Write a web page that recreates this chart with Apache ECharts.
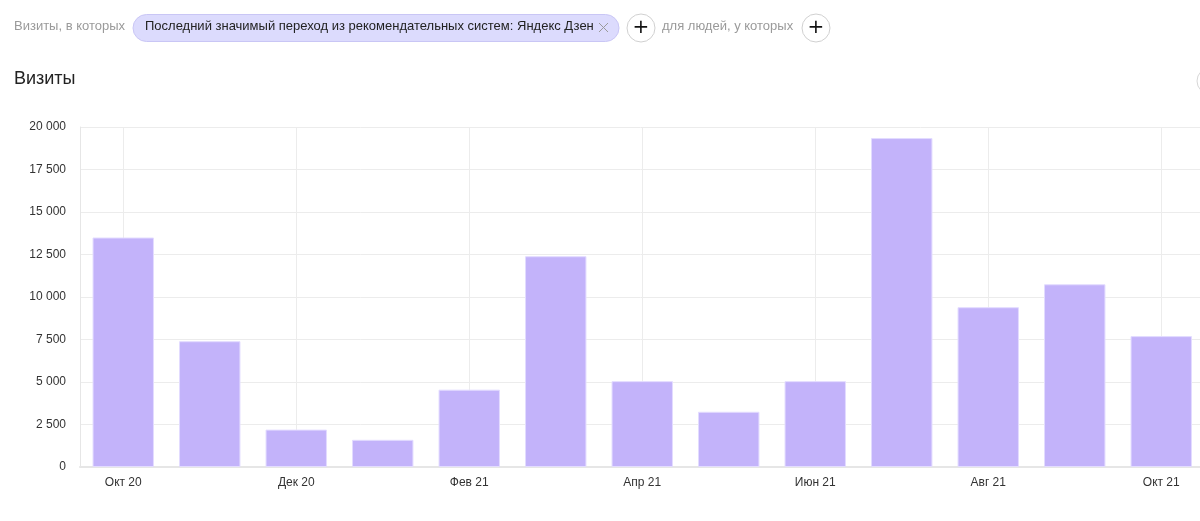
<!DOCTYPE html>
<html><head><meta charset="utf-8">
<script src="https://cdn.jsdelivr.net/npm/echarts@6/dist/echarts.min.js"></script>
<style>html,body{margin:0;padding:0;background:#fff;}#c{width:1200px;height:521px;}</style>
</head><body><div id="c"></div>
<script>
const months = ['Окт 20','Ноя 20','Дек 20','Янв 21','Фев 21','Мар 21','Апр 21','Май 21','Июн 21','Июл 21','Авг 21','Сен 21','Окт 21'];
const visits = [13500, 7400, 2200, 1600, 4550, 12400, 5050, 3250, 5050, 19350, 9400, 10750, 7700];
const yTicks = [0, 2500, 5000, 7500, 10000, 12500, 15000, 17500, 20000];
const chipText = 'Последний значимый переход из рекомендательных систем: Яндекс Дзен';

const chart = echarts.init(document.getElementById('c'), null, {renderer:'canvas'});
const fmt = v => String(v).replace(/\B(?=(\d{3})+(?!\d))/g, ' ');
chart.setOption({
  animation: false,
  textStyle: {fontFamily: 'Liberation Sans, Arial, sans-serif'},
  grid: {left: 80, top: 127, width: 1124.5, bottom: 54, containLabel: false, outerBoundsMode: 'none'},
  graphic: [
    {type:'text', left:14, top:20, style:{text:'Визиты, в которых', fill:'#9a9a9a', font:'13px "Liberation Sans", Arial, sans-serif'}},
    {type:'rect', shape:{x:133, y:14.5, width:486, height:27, r:13.5}, style:{fill:'#dcdbfd', stroke:'#c9c6f5', lineWidth:1}},
    {type:'text', left:145, top:20, style:{text:chipText, fill:'#222', font:'13px "Liberation Sans", Arial, sans-serif'}},
    {type:'line', shape:{x1:599, y1:23, x2:608, y2:32}, style:{stroke:'#9a9a9a', lineWidth:1}},
    {type:'line', shape:{x1:608, y1:23, x2:599, y2:32}, style:{stroke:'#9a9a9a', lineWidth:1}},
    {type:'circle', shape:{cx:641, cy:28, r:14}, style:{fill:'#fff', stroke:'#d0d0d0', lineWidth:1}},
    {type:'text', x:641, y:28, style:{text:'+', fill:'#111', font:'20px "DejaVu Sans", sans-serif', align:'center', verticalAlign:'middle'}},
    {type:'text', left:662, top:20, style:{text:'для людей, у которых', fill:'#9a9a9a', font:'13px "Liberation Sans", Arial, sans-serif'}},
    {type:'circle', shape:{cx:816, cy:28, r:14}, style:{fill:'#fff', stroke:'#d0d0d0', lineWidth:1}},
    {type:'text', x:816, y:28, style:{text:'+', fill:'#111', font:'20px "DejaVu Sans", sans-serif', align:'center', verticalAlign:'middle'}},
    {type:'text', left:14, top:70, style:{text:'Визиты', fill:'#222', font:'18px "Liberation Sans", Arial, sans-serif'}},
    {type:'circle', shape:{cx:1210, cy:81, r:13}, style:{fill:'#fff', stroke:'#d6d6d6', lineWidth:1}}
  ],
  xAxis: {
    type: 'category', data: months, boundaryGap: true,
    axisLine: {show:true, lineStyle:{color:'#e6e6e6', width:2}},
    axisTick: {show:false},
    axisLabel: {interval:1, color:'#333', fontSize:12, margin:10},
    splitLine: {show:true, interval:1, alignWithLabel:true, lineStyle:{color:'#ececec', width:1}}
  },
  yAxis: {
    type: 'value', min: yTicks[0], max: yTicks[yTicks.length-1], interval: 2500,
    axisLine: {show:true, lineStyle:{color:'#e6e6e6', width:1}},
    axisTick: {show:false},
    axisLabel: {color:'#333', fontSize:12, margin:14, formatter: v => fmt(v)},
    splitLine: {show:true, lineStyle:{color:'#ececec', width:1}}
  },
  series: [{
    type: 'bar', data: visits, barWidth: '71%',
    itemStyle: {color:'#c3b3fa', borderColor:'#e3dcff', borderWidth:1}
  }]
});
</script></body></html>
